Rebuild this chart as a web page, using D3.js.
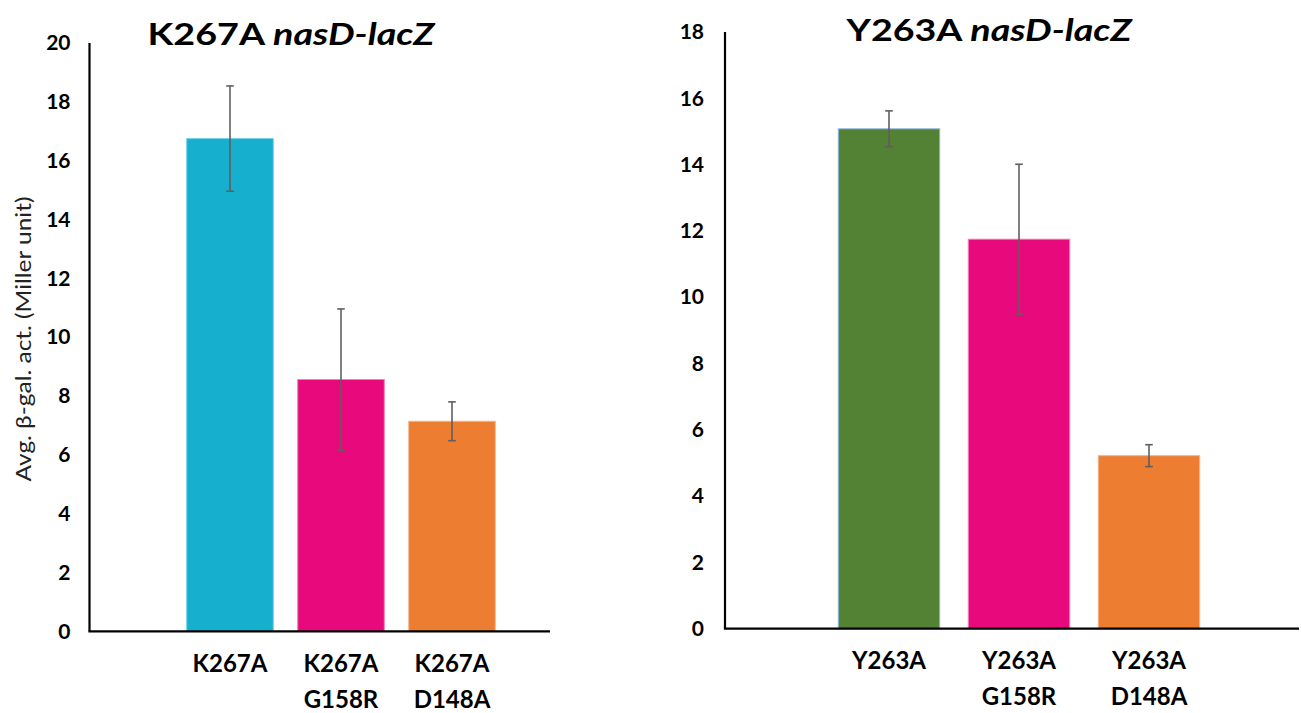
<!DOCTYPE html>
<html>
<head>
<meta charset="utf-8">
<script src="https://cdn.jsdelivr.net/npm/d3@7"></script>
<style>
  html, body { margin: 0; padding: 0; background: #ffffff; }
  svg { display: block; }
</style>
</head>
<body>
<svg id="chart" width="1301" height="713"></svg>
<script>
// Strain labels (line breaks separate the two parts of a double mutant)
const k267Labels = ["K267A", "K267A\nG158R", "K267A\nD148A"];
const k267Means = [16.75, 8.56, 7.14];
const k267Errors = [1.79, 2.40, 0.66];
const k267Ticks = [0, 2, 4, 6, 8, 10, 12, 14, 16, 18, 20];

const y263Labels = ["Y263A", "Y263A\nG158R", "Y263A\nD148A"];
const y263Means = [15.08, 11.75, 5.22];
const y263Errors = [0.54, 2.26, 0.33];
const y263Ticks = [0, 2, 4, 6, 8, 10, 12, 14, 16, 18];

const svg = d3.select("#chart");
const FONT = "Lato, Calibri, 'Open Sans', sans-serif";

function drawPanel(cfg) {
  const g = svg.append("g");

  const y = d3.scaleLinear()
    .domain([0, d3.max(cfg.ticks)])
    .range([cfg.yBottom, cfg.yTop]);

  const x = d3.scaleBand()
    .domain(cfg.labels)
    .range(cfg.xRange)
    .paddingInner(0.22)
    .paddingOuter(0.11);

  const rows = cfg.labels.map((label, i) => ({
    label, mean: cfg.means[i], err: cfg.errors[i], color: cfg.colors[i], stroke: cfg.strokes[i]
  }));

  // bars
  g.selectAll("rect.bar")
    .data(rows)
    .join("rect")
    .attr("class", "bar")
    .attr("x", d => x(d.label))
    .attr("width", x.bandwidth())
    .attr("y", d => y(d.mean))
    .attr("height", d => y(0) - y(d.mean))
    .attr("fill", d => d.color)
    .attr("stroke", d => d.stroke)
    .attr("stroke-width", 1);

  // error bars
  const eb = g.selectAll("g.err").data(rows).join("g").attr("class", "err")
    .attr("stroke", "#5f5f5f").attr("stroke-width", 1.6);
  const cx = d => x(d.label) + x.bandwidth() / 2;
  eb.append("line")
    .attr("x1", cx).attr("x2", cx)
    .attr("y1", d => y(d.mean + d.err)).attr("y2", d => y(d.mean - d.err));
  eb.append("line")
    .attr("x1", d => cx(d) - 3.8).attr("x2", d => cx(d) + 3.8)
    .attr("y1", d => y(d.mean + d.err)).attr("y2", d => y(d.mean + d.err));
  eb.append("line")
    .attr("x1", d => cx(d) - 3.8).attr("x2", d => cx(d) + 3.8)
    .attr("y1", d => y(d.mean - d.err)).attr("y2", d => y(d.mean - d.err));

  // y axis: line plus bold numeric labels, no tick marks
  const yAxis = d3.axisLeft(y).tickValues(cfg.ticks).tickSize(0).tickPadding(cfg.tickPad);
  const ya = g.append("g")
    .attr("transform", `translate(${cfg.axisX},0)`)
    .call(yAxis);
  ya.select(".domain").remove();
  ya.selectAll("text")
    .attr("font-family", FONT)
    .attr("font-weight", "bold")
    .attr("font-size", 21)
    .attr("fill", "#000");

  g.append("line")
    .attr("x1", cfg.axisX).attr("x2", cfg.axisX)
    .attr("y1", y(d3.max(cfg.ticks))).attr("y2", y(0))
    .attr("stroke", "#000").attr("stroke-width", 2.2);

  // baseline
  g.append("line")
    .attr("x1", cfg.axisX - 1.1).attr("x2", cfg.baseEnd)
    .attr("y1", y(0)).attr("y2", y(0))
    .attr("stroke", "#000").attr("stroke-width", 2.2);

  // category labels
  const lbl = g.selectAll("text.cat").data(rows).join("text")
    .attr("class", "cat")
    .attr("font-family", FONT)
    .attr("font-weight", "bold")
    .attr("font-size", 24)
    .attr("fill", "#000")
    .attr("text-anchor", "middle");
  lbl.selectAll("tspan")
    .data(d => d.label.split("\n").map(t => ({ t, c: cx(d) })))
    .join("tspan")
    .attr("x", t => t.c)
    .attr("y", (t, i) => y(0) + cfg.labelDy + i * 36)
    .attr("dominant-baseline", "middle")
    .text(t => t.t);

  // title
  const title = g.append("text")
    .attr("x", cfg.titleX).attr("y", cfg.titleY)
    .attr("text-anchor", "middle")
    .attr("font-family", FONT)
    .attr("font-weight", "bold")
    .attr("font-size", 31)
    .attr("textLength", cfg.titleWidth)
    .attr("lengthAdjust", "spacingAndGlyphs")
    .attr("fill", "#000");
  title.append("tspan").text(cfg.titleStrain + " ");
  title.append("tspan").attr("font-style", "italic").text("nasD-lacZ");

  return g;
}

drawPanel({
  labels: k267Labels, means: k267Means, errors: k267Errors, ticks: k267Ticks,
  colors: ["#17afce", "#e8097d", "#ed7d31"],
  strokes: ["#6fd0e6", "#f47fb6", "#f5b48c"],
  yBottom: 631.3, yTop: 43, axisX: 89.5, xRange: [174.5, 507.5], baseEnd: 550,
  tickPad: 19, labelDy: 35, titleX: 291, titleY: 45, titleWidth: 287, titleStrain: "K267A"
});

drawPanel({
  labels: y263Labels, means: y263Means, errors: y263Errors, ticks: y263Ticks,
  colors: ["#548235", "#e8097d", "#ed7d31"],
  strokes: ["#8fb4e3", "#f47fb6", "#f5b48c"],
  yBottom: 628.7, yTop: 32, axisX: 725, xRange: [824, 1214], baseEnd: 1299,
  tickPad: 21, labelDy: 34, titleX: 989, titleY: 41, titleWidth: 285, titleStrain: "Y263A"
});

// shared y-axis title on the left panel
svg.append("text")
  .attr("transform", "translate(26,339) rotate(-90)")
  .attr("text-anchor", "middle")
  .attr("dominant-baseline", "middle")
  .attr("font-family", FONT)
  .attr("font-size", 21)
  .attr("textLength", 285)
  .attr("lengthAdjust", "spacingAndGlyphs")
  .attr("fill", "#222")
  .text("Avg. β-gal. act. (Miller unit)");
</script>
</body>
</html>
